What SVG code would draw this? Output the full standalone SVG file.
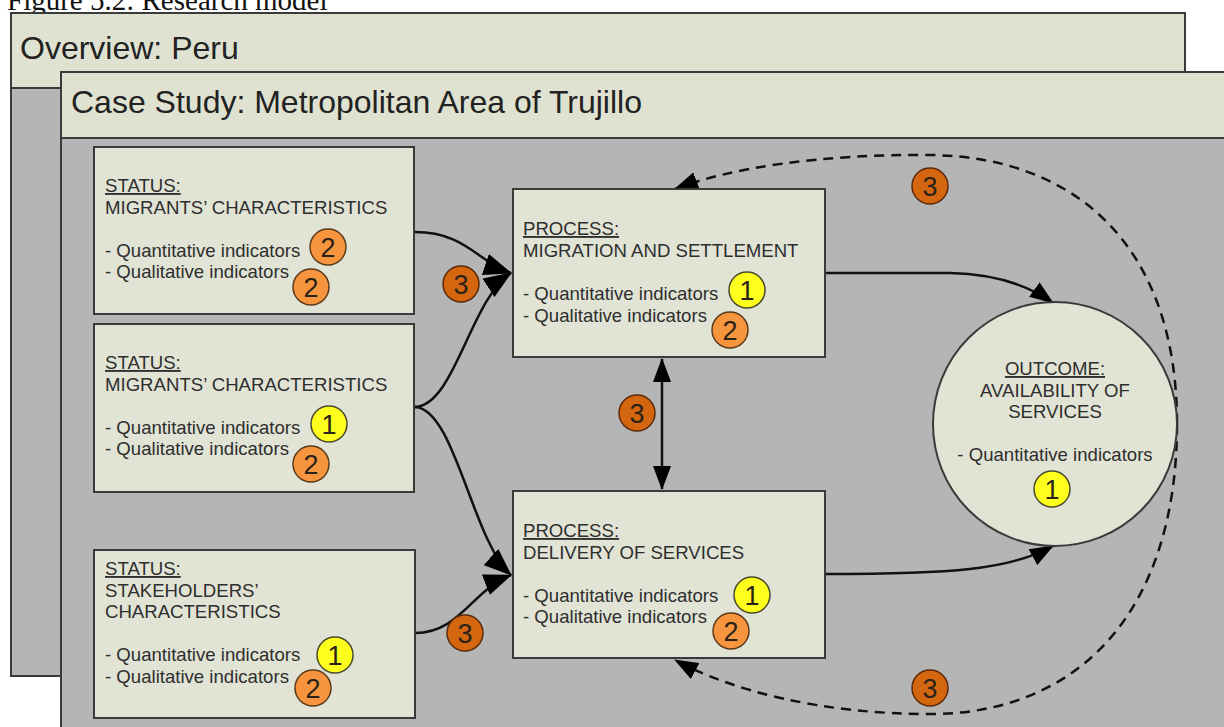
<svg xmlns="http://www.w3.org/2000/svg" width="1224" height="727" viewBox="0 0 1224 727">
<defs>
<style>
.frame{stroke:#3a3a3a;stroke-width:2}
.hdr{fill:#dfe2d1}
.body{fill:#b5b5b5}
.box{fill:#e1e4d5;stroke:#3a3a3a;stroke-width:2}
.t{font-family:"Liberation Sans",Arial,sans-serif;font-size:18.6px;fill:#2e2e2e}
.big{font-family:"Liberation Sans",Arial,sans-serif;font-size:32px;fill:#222}
.u{text-decoration:underline}
.b1{fill:#ffff1e;stroke:#4a4a2a;stroke-width:1.5}
.b2{fill:#f6953e;stroke:#5a3a1a;stroke-width:1.5}
.b3{fill:#d3660f;stroke:#5a2a0a;stroke-width:1.5}
.bt{font-family:"Liberation Sans",Arial,sans-serif;font-size:27px;fill:#2a2218;text-anchor:middle}
.c{fill:none;stroke:#111;stroke-width:2.5}
.d{fill:none;stroke:#111;stroke-width:2.5;stroke-dasharray:10 7}
</style>
<marker id="ah" markerUnits="userSpaceOnUse" markerWidth="28" markerHeight="22" refX="27" refY="11" orient="auto-start-reverse">
<path d="M0,0 L28,11 L0,22 z" fill="#000"/>
</marker>
<marker id="ahs" markerUnits="userSpaceOnUse" markerWidth="24" markerHeight="18" refX="23" refY="9" orient="auto-start-reverse">
<path d="M0,0 L24,9 L0,18 z" fill="#000"/>
</marker>
</defs>
<rect width="1224" height="727" fill="#fff"/>
<text x="7" y="10" font-family="Liberation Serif,Times New Roman,serif" font-size="29" fill="#111">Figure 5.2: Research model</text>

<g id="overview">
<rect x="11" y="13" width="1174" height="663" class="body frame"/>
<rect x="11" y="13" width="1174" height="75" class="hdr frame"/>
<text x="20" y="59" class="big">Overview: Peru</text>
</g>

<g id="casestudy">
<rect x="61" y="72" width="1180" height="680" class="body frame"/>
<rect x="61" y="72" width="1180" height="66" class="hdr frame"/>
<text x="71" y="113" class="big">Case Study: Metropolitan Area of Trujillo</text>
</g>

<g id="connectors">
<path class="c" d="M415,232 C465,232 478,262 511,273" marker-end="url(#ah)"/>
<path class="c" d="M415,407 C455,405 470,300 511,273" marker-end="url(#ah)"/>
<path class="c" d="M415,407 C455,409 472,540 511,575" marker-end="url(#ah)"/>
<path class="c" d="M415,633 C460,633 472,590 511,575" marker-end="url(#ah)"/>
<path class="c" d="M825,273 L950,273 C995,274 1028,285 1053,303" marker-end="url(#ahs)"/>
<path class="c" d="M825,574 C950,574 1010,570 1053,546" marker-end="url(#ahs)"/>
<path class="c" d="M662,359 L662,489" marker-start="url(#ahs)" marker-end="url(#ahs)"/>
<path class="d" d="M1177,424 C1177,250 1080,157 930,155 C820,154 730,168 675,189" marker-end="url(#ahs)"/>
<path class="d" d="M1177,424 C1177,610 1080,714 930,714 C820,714 730,690 675,660" marker-end="url(#ahs)"/>
<g id="badges-connectors">
<circle cx="461" cy="284" r="18" class="b3"/><text x="461" y="294" class="bt">3</text>
<circle cx="465" cy="633" r="18" class="b3"/><text x="465" y="643" class="bt">3</text>
<circle cx="637" cy="413" r="18" class="b3"/><text x="637" y="423" class="bt">3</text>
<circle cx="930" cy="186" r="18" class="b3"/><text x="930" y="196" class="bt">3</text>
<circle cx="930" cy="688" r="18" class="b3"/><text x="930" y="698" class="bt">3</text>
</g>
</g>

<g id="status1">
<rect x="94" y="147" width="320" height="167" class="box"/>
<text x="105" y="192" class="t u">STATUS:</text>
<text x="105" y="213.5" class="t">MIGRANTS’ CHARACTERISTICS</text>
<text x="105" y="256.5" class="t">- Quantitative indicators</text>
<text x="105" y="278" class="t">- Qualitative indicators</text>
<circle cx="328" cy="247" r="18" class="b2"/><text x="328" y="257" class="bt">2</text>
<circle cx="311" cy="287" r="18" class="b2"/><text x="311" y="297" class="bt">2</text>
</g>

<g id="status2">
<rect x="94" y="324" width="320" height="168" class="box"/>
<text x="105" y="369" class="t u">STATUS:</text>
<text x="105" y="390.5" class="t">MIGRANTS’ CHARACTERISTICS</text>
<text x="105" y="433.5" class="t">- Quantitative indicators</text>
<text x="105" y="455" class="t">- Qualitative indicators</text>
<circle cx="329" cy="424" r="18" class="b1"/><text x="329" y="434" class="bt">1</text>
<circle cx="311" cy="464" r="18" class="b2"/><text x="311" y="474" class="bt">2</text>
</g>

<g id="status3">
<rect x="94" y="550" width="321" height="168" class="box"/>
<text x="105" y="575" class="t u">STATUS:</text>
<text x="105" y="596.5" class="t">STAKEHOLDERS’</text>
<text x="105" y="618" class="t">CHARACTERISTICS</text>
<text x="105" y="661" class="t">- Quantitative indicators</text>
<text x="105" y="682.5" class="t">- Qualitative indicators</text>
<circle cx="335" cy="655" r="18" class="b1"/><text x="335" y="665" class="bt">1</text>
<circle cx="313" cy="688" r="18" class="b2"/><text x="313" y="698" class="bt">2</text>
</g>

<g id="process1">
<rect x="513" y="189" width="312" height="168" class="box"/>
<text x="523" y="235" class="t u">PROCESS:</text>
<text x="523" y="256.5" class="t">MIGRATION AND SETTLEMENT</text>
<text x="523" y="300" class="t">- Quantitative indicators</text>
<text x="523" y="321.5" class="t">- Qualitative indicators</text>
<circle cx="747" cy="290" r="18" class="b1"/><text x="747" y="300" class="bt">1</text>
<circle cx="730" cy="330" r="18" class="b2"/><text x="730" y="340" class="bt">2</text>
</g>

<g id="process2">
<rect x="513" y="491" width="312" height="167" class="box"/>
<text x="523" y="537" class="t u">PROCESS:</text>
<text x="523" y="558.5" class="t">DELIVERY OF SERVICES</text>
<text x="523" y="601.5" class="t">- Quantitative indicators</text>
<text x="523" y="623" class="t">- Qualitative indicators</text>
<circle cx="752" cy="595" r="18" class="b1"/><text x="752" y="605" class="bt">1</text>
<circle cx="731" cy="631" r="18" class="b2"/><text x="731" y="641" class="bt">2</text>
</g>

<g id="outcome">
<circle cx="1055" cy="424" r="122" class="box"/>
<text x="1055" y="375" class="t u" text-anchor="middle">OUTCOME:</text>
<text x="1055" y="396.5" class="t" text-anchor="middle">AVAILABILITY OF</text>
<text x="1055" y="418" class="t" text-anchor="middle">SERVICES</text>
<text x="1055" y="461" class="t" text-anchor="middle">- Quantitative indicators</text>
<circle cx="1052" cy="489" r="18" class="b1"/><text x="1052" y="499" class="bt">1</text>
</g>
</svg>
